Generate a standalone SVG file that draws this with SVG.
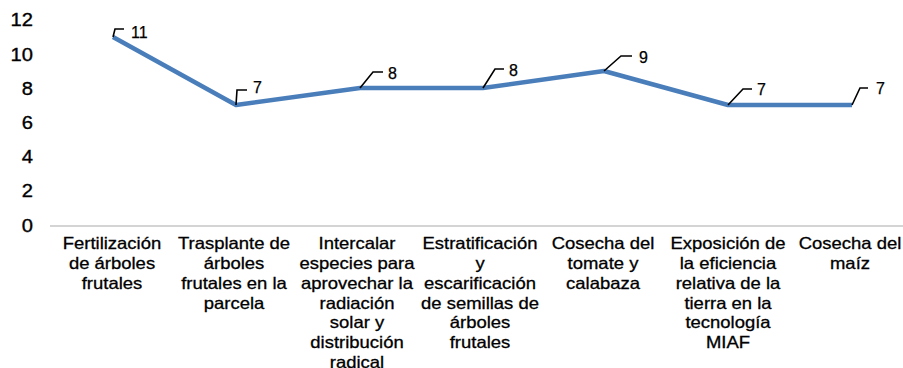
<svg xmlns="http://www.w3.org/2000/svg" width="903" height="368" viewBox="0 0 903 368">
<style>
.ax{font-family:"Liberation Sans",Arial,sans-serif;font-size:18px;fill:#000;stroke:#000;stroke-width:0.35;text-anchor:end}
.cat{font-family:"Liberation Sans",Arial,sans-serif;font-size:16.5px;fill:#000;stroke:#000;stroke-width:0.3;text-anchor:middle}
.dl{font-family:"Liberation Sans",Arial,sans-serif;font-size:16px;fill:#000;stroke:#000;stroke-width:0.25}
.lead{fill:none;stroke:#000;stroke-width:1.6}
</style>
<rect width="903" height="368" fill="#fff"/>
<g id="y-axis">
<g transform="scale(1.12 1)">
<text class="ax" x="29.5" y="26.5">12</text>
<text class="ax" x="29.5" y="61">10</text>
<text class="ax" x="29.5" y="95">8</text>
<text class="ax" x="29.5" y="129">6</text>
<text class="ax" x="29.5" y="163">4</text>
<text class="ax" x="29.5" y="197.5">2</text>
<text class="ax" x="29.5" y="232">0</text>
</g>
<line x1="50" y1="226" x2="903" y2="226" stroke="#d4d4d4" stroke-width="2"/>
</g>
<g id="connectors">
<polyline points="113,37 236,105 360,88 483,88 604,71 728,105 852,105" fill="none" stroke="#4a7ebb" stroke-width="4.5" stroke-linejoin="round"/>
<path class="lead" d="M113,37 L115,29 L124,29"/>
<path class="lead" d="M236,105 L237,90 L247,90"/>
<path class="lead" d="M360,88 L373,72 L383,72"/>
<path class="lead" d="M483,88 L495,69 L504,69"/>
<path class="lead" d="M604,71 L621,56 L632,56"/>
<path class="lead" d="M728,105 L743,89 L752,89"/>
<path class="lead" d="M852,105 L860,88 L868,88"/>
</g>
<g id="data-labels">
<text class="dl" x="131" y="38">11</text>
<text class="dl" x="253" y="93">7</text>
<text class="dl" x="388" y="79">8</text>
<text class="dl" x="509" y="76">8</text>
<text class="dl" x="639" y="63">9</text>
<text class="dl" x="757" y="95">7</text>
<text class="dl" x="876" y="94">7</text>
</g>
<g id="cat1" transform="translate(112 0) scale(1.12 1)">
<text class="cat" y="249.5"><tspan x="0">Fertilización</tspan><tspan x="0" dy="19.7">de árboles</tspan><tspan x="0" dy="19.7">frutales</tspan></text>
</g>
<g id="cat2" transform="translate(234 0) scale(1.12 1)">
<text class="cat" y="249.5"><tspan x="0">Trasplante de</tspan><tspan x="0" dy="19.7">árboles</tspan><tspan x="0" dy="19.7">frutales en la</tspan><tspan x="0" dy="19.7">parcela</tspan></text>
</g>
<g id="cat3" transform="translate(357 0) scale(1.12 1)">
<text class="cat" y="249.5"><tspan x="0">Intercalar</tspan><tspan x="0" dy="19.7">especies para</tspan><tspan x="0" dy="19.7">aprovechar la</tspan><tspan x="0" dy="19.7">radiación</tspan><tspan x="0" dy="19.7">solar y</tspan><tspan x="0" dy="19.7">distribución</tspan><tspan x="0" dy="19.7">radical</tspan></text>
</g>
<g id="cat4" transform="translate(480 0) scale(1.12 1)">
<text class="cat" y="249.5"><tspan x="0">Estratificación</tspan><tspan x="0" dy="19.7">y</tspan><tspan x="0" dy="19.7">escarificación</tspan><tspan x="0" dy="19.7">de semillas de</tspan><tspan x="0" dy="19.7">árboles</tspan><tspan x="0" dy="19.7">frutales</tspan></text>
</g>
<g id="cat5" transform="translate(603 0) scale(1.12 1)">
<text class="cat" y="249.5"><tspan x="0">Cosecha del</tspan><tspan x="0" dy="19.7">tomate y</tspan><tspan x="0" dy="19.7">calabaza</tspan></text>
</g>
<g id="cat6" transform="translate(728 0) scale(1.12 1)">
<text class="cat" y="249.5"><tspan x="0">Exposición de</tspan><tspan x="0" dy="19.7">la eficiencia</tspan><tspan x="0" dy="19.7">relativa de la</tspan><tspan x="0" dy="19.7">tierra en la</tspan><tspan x="0" dy="19.7">tecnología</tspan><tspan x="0" dy="19.7">MIAF</tspan></text>
</g>
<g id="cat7" transform="translate(850 0) scale(1.12 1)">
<text class="cat" y="249.5"><tspan x="0">Cosecha del</tspan><tspan x="0" dy="19.7">maíz</tspan></text>
</g>
</svg>
